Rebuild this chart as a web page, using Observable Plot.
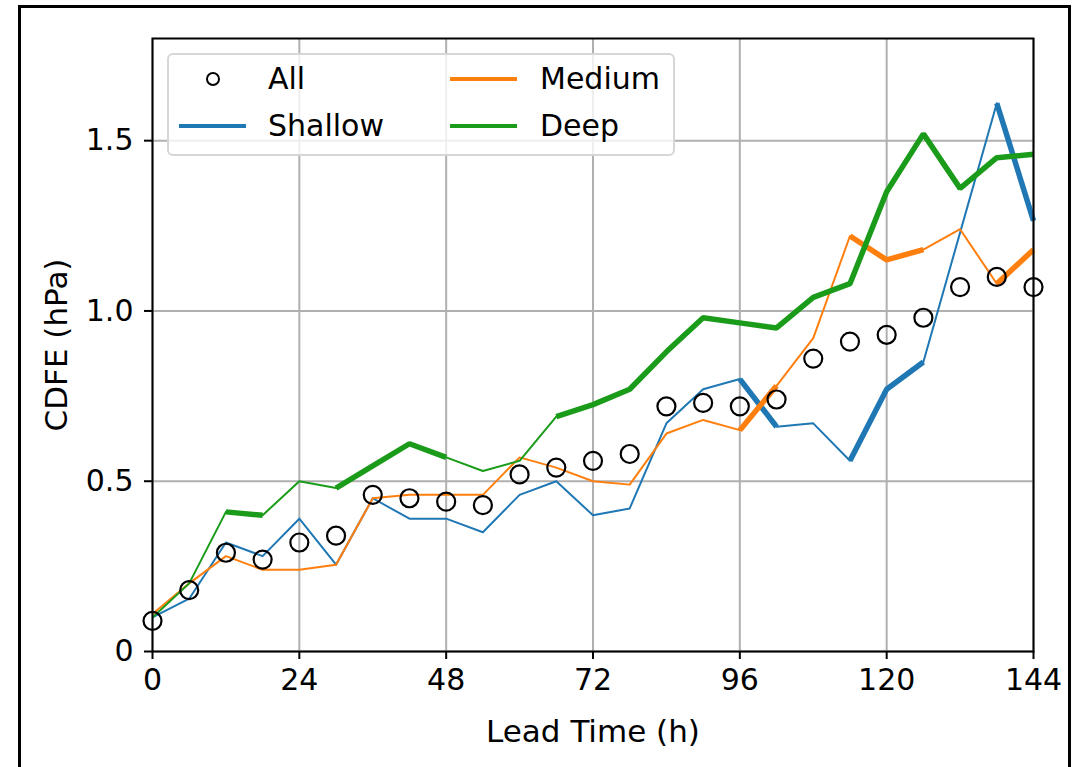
<!DOCTYPE html>
<html>
<head>
<meta charset="utf-8">
<script src="https://cdn.jsdelivr.net/npm/d3@7"></script>
<script src="https://cdn.jsdelivr.net/npm/@observablehq/plot@0.6"></script>
<style>
  html, body { margin: 0; padding: 0; background: #fff; overflow: hidden; }
  body { font-family: "DejaVu Sans", sans-serif; }
  #wrap { position: relative; width: 1089px; height: 767px; }
  #frame { position: absolute; left: 18px; top: 5px; width: 1053px; height: 820px; border: 3px solid #000; pointer-events: none; box-sizing: border-box; }
  #legend { position: absolute; left: 167px; top: 53px; width: 508px; height: 103px; box-sizing: border-box;
            border: 2px solid #d6d6d6; border-radius: 6px; background: rgba(255,255,255,0.8); }
  .item { position: absolute; height: 40px; line-height: 40px; font-size: 30px; color: #000; white-space: nowrap; }
  .sw { position: absolute; }
</style>
</head>
<body>
<div id="wrap">
  <div id="chart"></div>
  <div id="legend"></div>
  <div id="frame"></div>
</div>
<script>
// ---- data ----
const leadTime = [0, 6, 12, 18, 24, 30, 36, 42, 48, 54, 60, 66, 72, 78, 84, 90, 96, 102, 108, 114, 120, 126, 132, 138, 144];
const allVals  = [0.09, 0.18, 0.29, 0.27, 0.32, 0.34, 0.46, 0.45, 0.44, 0.43, 0.52, 0.54, 0.56, 0.58, 0.72, 0.73, 0.72, 0.74, 0.86, 0.91, 0.93, 0.98, 1.07, 1.10, 1.07];
const shallow  = [0.10, 0.155, 0.32, 0.28, 0.39, 0.255, 0.45, 0.39, 0.39, 0.35, 0.46, 0.50, 0.40, 0.42, 0.67, 0.77, 0.80, 0.66, 0.67, 0.56, 0.77, 0.85, 1.23, 1.61, 1.265];
const medium   = [0.11, 0.20, 0.28, 0.24, 0.24, 0.255, 0.45, 0.46, 0.46, 0.46, 0.57, 0.54, 0.50, 0.49, 0.64, 0.68, 0.65, 0.78, 0.92, 1.22, 1.15, 1.18, 1.24, 1.08, 1.18];
const deep     = [0.10, 0.20, 0.41, 0.40, 0.50, 0.48, 0.545, 0.61, 0.57, 0.53, 0.56, 0.69, 0.725, 0.77, 0.88, 0.98, 0.965, 0.95, 1.04, 1.08, 1.35, 1.52, 1.36, 1.45, 1.46];
// significance flags (thick segments join consecutive flagged points)
const shallowSig = [0,0,0,0,0,0,0,0,0,0,0,0,0,0,0,0,1,1,0,1,1,1,0,1,1];
const mediumSig  = [0,0,0,0,0,0,0,0,0,0,0,0,0,0,0,0,1,1,0,1,1,1,0,1,1];
const deepSig    = [0,0,1,1,0,1,1,1,1,0,0,1,1,1,1,1,1,1,1,1,1,1,1,1,1];
const seriesNames  = ["Shallow", "Medium", "Deep"];
const seriesColors = ["#1f77b4", "#ff7f0e", "#1a9c1a"];
const xTicks = [0, 24, 48, 72, 96, 120, 144];
const yTicks = [0, 0.5, 1.0, 1.5];
const yTickLabels = ["0", "0.5", "1.0", "1.5"];
const xLabel = "Lead Time (h)";
const yLabel = "CDFE (hPa)";
const allLabel = "All";

// ---- build tables ----
const seriesVals = [shallow, medium, deep];
const seriesSig = [shallowSig, mediumSig, deepSig];
const thinRows = [];
const thickRows = [];
seriesNames.forEach((name, s) => {
  const v = seriesVals[s], sig = seriesSig[s];
  let run = 0;
  leadTime.forEach((t, i) => {
    thinRows.push({series: name, t, v: v[i]});
    if (sig[i] && ((i > 0 && sig[i-1]) || (i < sig.length - 1 && sig[i+1]))) {
      if (i === 0 || !sig[i-1]) run++;
      thickRows.push({series: name, run: name + run, t, v: v[i]});
    }
  });
});
const allRows = leadTime.map((t, i) => ({t, v: allVals[i]}));

const colorOf = Object.fromEntries(seriesNames.map((n, i) => [n, seriesColors[i]]));

const lineMarks = [];
seriesNames.forEach(name => {
  lineMarks.push(Plot.line(thinRows.filter(d => d.series === name), {x: "t", y: "v", stroke: colorOf[name], strokeWidth: 2, strokeLinejoin: "round", strokeLinecap: "butt"}));
  lineMarks.push(Plot.line(thickRows.filter(d => d.series === name), {x: "t", y: "v", z: "run", stroke: colorOf[name], strokeWidth: 5.5, strokeLinejoin: "miter", strokeLinecap: "butt"}));
});

const chart = Plot.plot({
  width: 1089,
  height: 767,
  marginLeft: 152,
  marginRight: 56,
  marginTop: 38,
  marginBottom: 116,
  style: {fontFamily: "DejaVu Sans, sans-serif", fontSize: "30px", color: "#000", background: "transparent"},
  x: {domain: [0, 144]},
  y: {domain: [0, 1.8]},
  marks: [
    Plot.gridX(xTicks, {stroke: "#b0b0b0", strokeOpacity: 1, strokeWidth: 2}),
    Plot.gridY(yTicks, {stroke: "#b0b0b0", strokeOpacity: 1, strokeWidth: 2}),
    ...lineMarks,
    Plot.dot(allRows, {x: "t", y: "v", r: 9, stroke: "#000", strokeWidth: 2.2, fill: "none"}),
    Plot.frame({stroke: "#000", strokeWidth: 2}),
    Plot.axisX(xTicks, {tickSize: 8, tickPadding: 9, strokeWidth: 2, fontSize: 30, label: null}),
    Plot.axisX({label: xLabel, labelAnchor: "center", labelArrow: "none", labelOffset: 90, fontSize: 31, ticks: []}),
    Plot.axisY(yTicks, {tickSize: 8, tickPadding: 11, strokeWidth: 2, fontSize: 30, tickFormat: (d) => yTickLabels[yTicks.indexOf(d)], label: null}),
    Plot.axisY({label: yLabel, labelAnchor: "center", labelArrow: "none", labelOffset: 108, fontSize: 31, ticks: []})
  ]
});
document.getElementById("chart").appendChild(chart);

// ---- legend ----
const legend = document.getElementById("legend");
const rowsY = [26, 73];
const entries = [
  {label: allLabel, kind: "dot", col: 0, row: 0},
  {label: seriesNames[0], kind: "line", color: seriesColors[0], col: 0, row: 1},
  {label: seriesNames[1], kind: "line", color: seriesColors[1], col: 1, row: 0},
  {label: seriesNames[2], kind: "line", color: seriesColors[2], col: 1, row: 1}
];
const colSwatchX = [10, 281];
const colTextX = [99, 371];
entries.forEach(e => {
  const cy = rowsY[e.row] - 2;
  const sw = document.createElementNS("http://www.w3.org/2000/svg", "svg");
  sw.setAttribute("class", "sw");
  sw.setAttribute("width", 68);
  sw.setAttribute("height", 20);
  sw.style.left = colSwatchX[e.col] + "px";
  sw.style.top = (cy - 10) + "px";
  if (e.kind === "dot") {
    sw.innerHTML = '<circle cx="34" cy="10" r="6" fill="none" stroke="#000" stroke-width="2"/>';
  } else {
    sw.innerHTML = `<line x1="0" y1="10" x2="67" y2="10" stroke="${e.color}" stroke-width="4"/>`;
  }
  legend.appendChild(sw);
  const tx = document.createElement("div");
  tx.className = "item";
  tx.textContent = e.label;
  tx.style.left = colTextX[e.col] + "px";
  tx.style.top = (cy - 20) + "px";
  legend.appendChild(tx);
});
</script>
</body>
</html>
